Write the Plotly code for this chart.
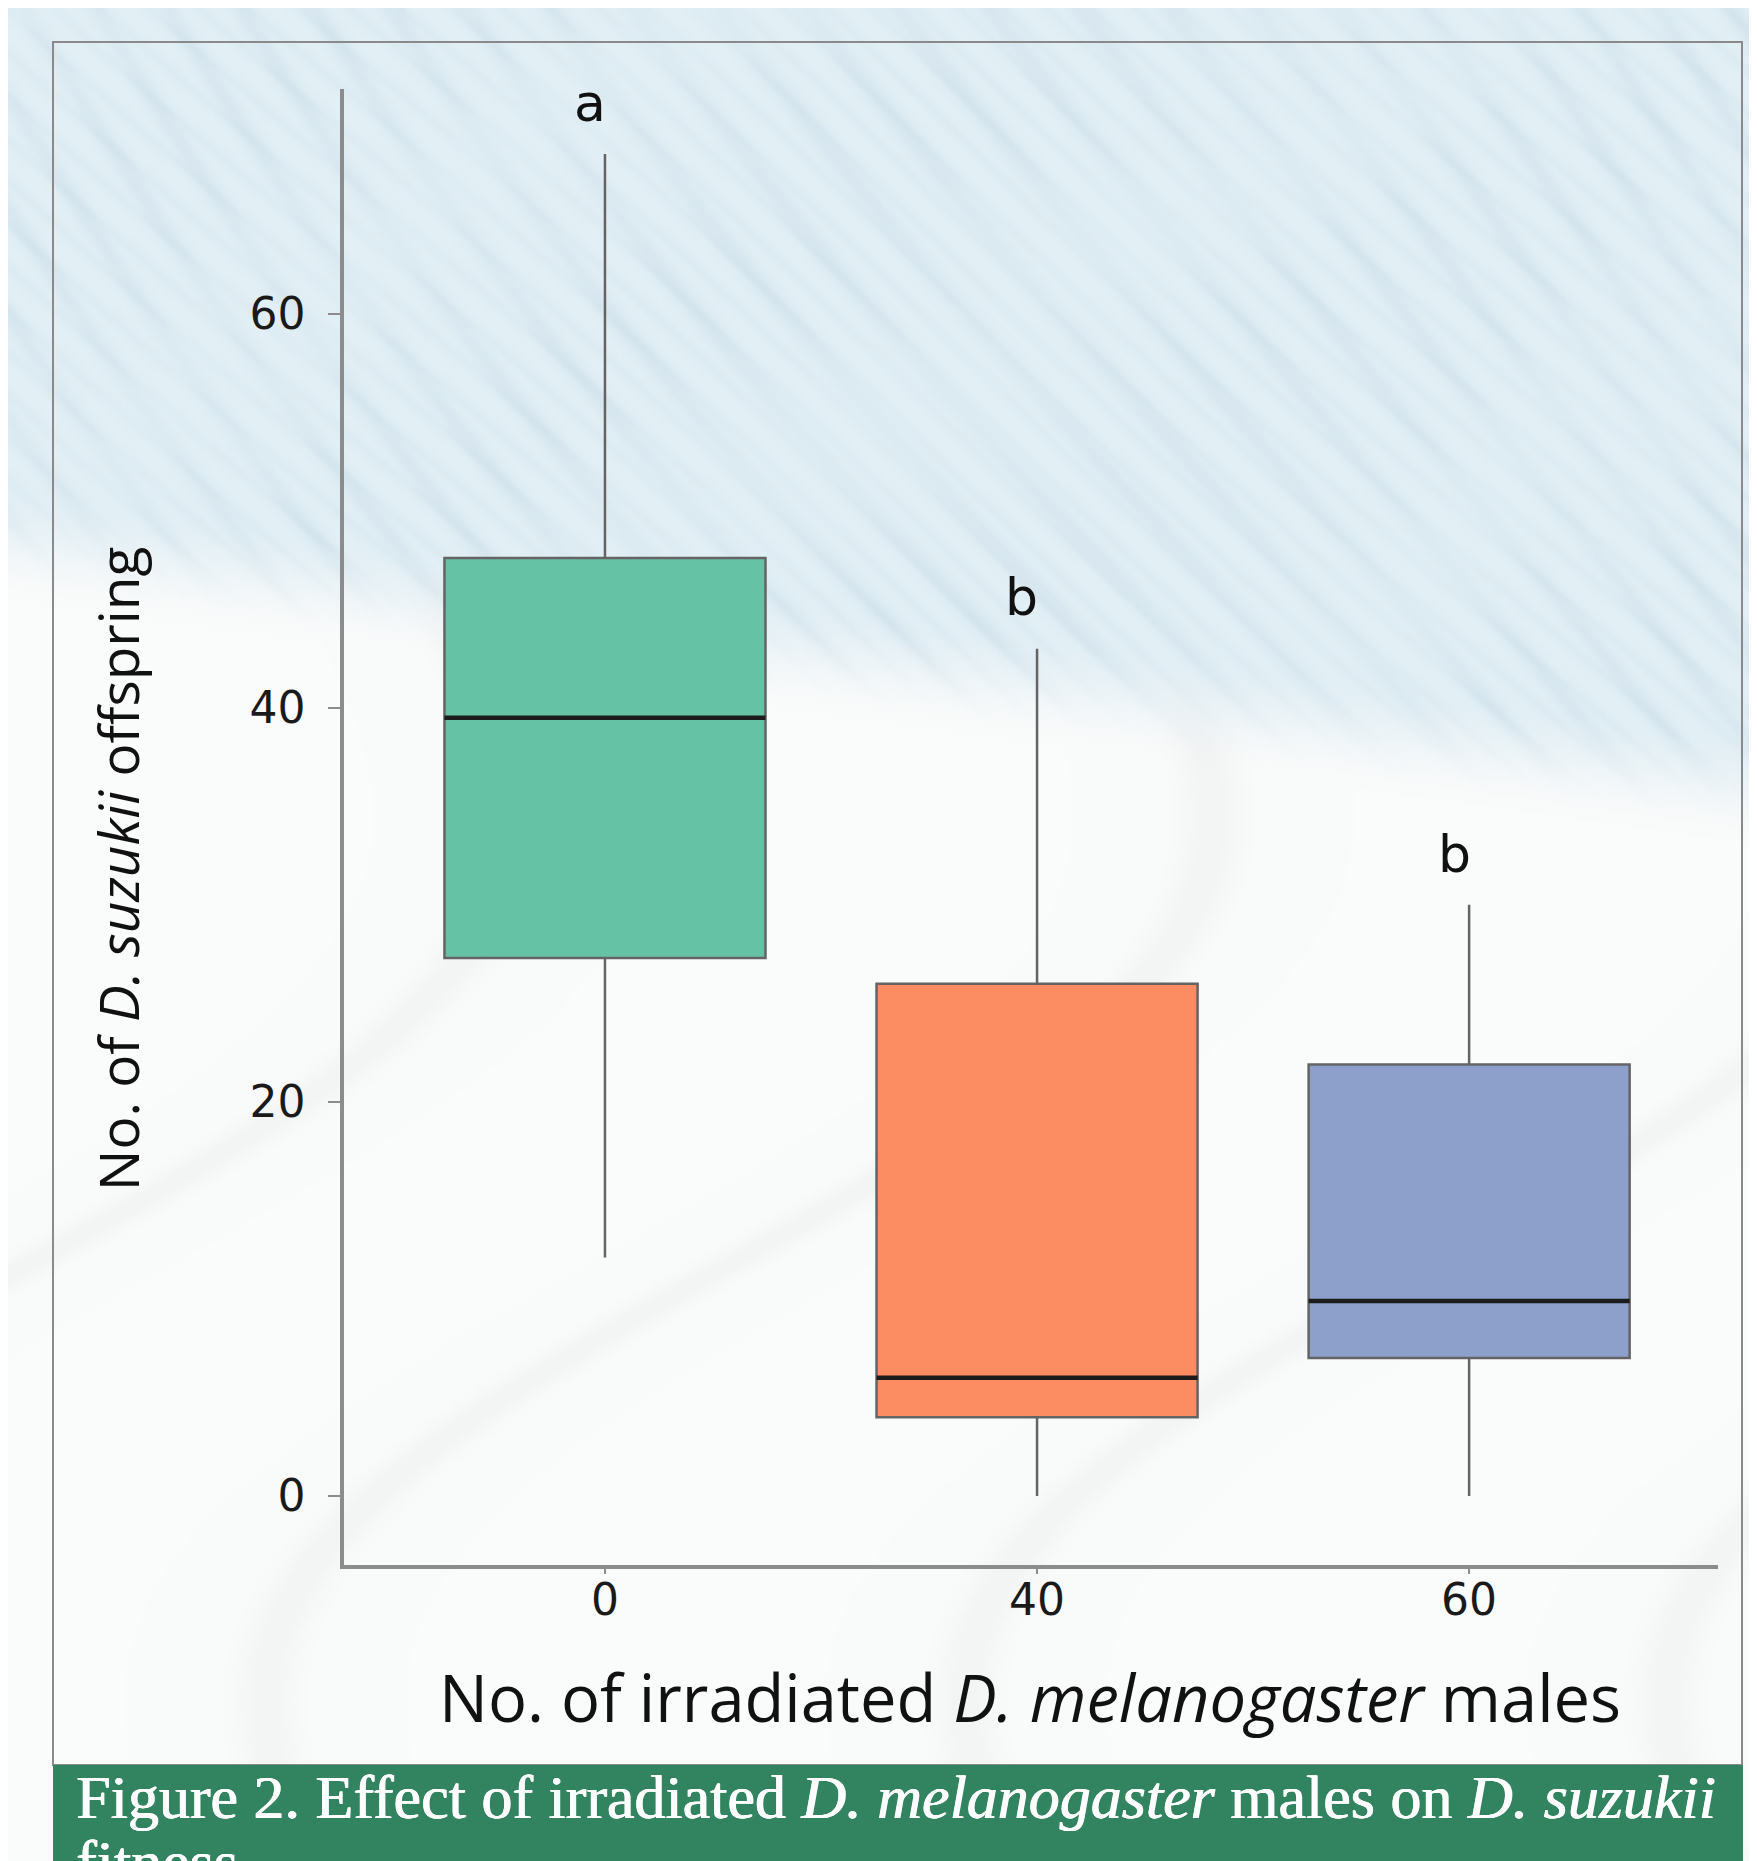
import base64
import struct
import zlib

import numpy as np
import plotly.graph_objects as go

# ---------------- data ----------------
categories = ["0", "40", "60"]
q1_vals = [27.3, 4.0, 7.0]
median_vals = [39.5, 6.0, 9.9]
q3_vals = [47.6, 26.0, 21.9]
lower_vals = [12.1, 0.0, 0.0]
upper_vals = [68.1, 43.0, 30.0]
letters = ["a", "b", "b"]
y_ticks = [0, 20, 40, 60]

colors = ["#66c2a5", "#fc8d62", "#8da0cb"]

# ---------------- geometry helpers ----------------
OFF = 8  # page body margin of the browser
FW, FH = 1757 - OFF, 1861 - OFF
# plot area in reference pixel coordinates
RL, RR, RT, RB = 344, 1718, 89, 1565
L, R, T, B = RL - OFF, RR - OFF, RT - OFF, RB - OFF
PW, PH = R - L, B - T


def px_x(x):  # x given in reference pixels
    return (x - OFF - L) / PW


def px_y(y):
    return (B - (y - OFF)) / PH


# ---------------- background image (soft photo-like texture) ----------------
def make_bg():
    W, H = 440, 466
    sx, sy = FW / W, FH / H
    yy, xx = np.mgrid[0:H, 0:W].astype(float)
    xx = xx * sx + OFF
    yy = yy * sy + OFF
    blue = np.array([226, 239, 245], float)
    white = np.array([250, 251, 251], float)
    yt = 540 + 0.14 * xx
    t = np.clip((yy - yt) / 110 + 0.5, 0, 1)
    t = t * t * (3 - 2 * t)
    phase = 2 * np.pi * (xx - 0.8 * yy) / 80 + 3 * np.sin(xx / 310) + 2 * np.sin(yy / 260)
    phase_b = 2 * np.pi * (xx - 1.1 * yy) / 47 + 2 * np.sin(xx / 190 + 1.3)
    dark = 0.6 * np.clip(np.sin(phase), 0, 1) ** 2 + 0.4 * np.clip(np.sin(phase_b), 0, 1) ** 3
    dark *= 0.6 + 0.4 * np.sin(xx / 230 + yy / 170) ** 2
    blue_img = blue[None, None, :] - dark[..., None] * np.array([15, 11, 8], float)[None, None, :]
    phase2 = 2 * np.pi * (xx * 0.6 + yy * 0.4) / 420 + 2 * np.sin(yy / 200)
    faint = np.clip(np.sin(phase2), 0, 1) ** 30
    white_img = white[None, None, :] - faint[..., None] * np.array([7, 7, 7], float)[None, None, :]
    img = blue_img * (1 - t[..., None]) + white_img * t[..., None]
    img = np.clip(img, 0, 255).astype(np.uint8)
    raw = b"".join(b"\x00" + img[r].tobytes() for r in range(H))

    def chunk(tag, data):
        c = struct.pack(">I", len(data)) + tag + data
        return c + struct.pack(">I", zlib.crc32(tag + data) & 0xFFFFFFFF)

    png = b"\x89PNG\r\n\x1a\n"
    png += chunk(b"IHDR", struct.pack(">IIBBBBB", W, H, 8, 2, 0, 0, 0))
    png += chunk(b"IDAT", zlib.compress(raw, 9))
    png += chunk(b"IEND", b"")
    return "data:image/png;base64," + base64.b64encode(png).decode()


# ---------------- figure ----------------
fig = go.Figure()
box_w = 0.743
for i, cat in enumerate(categories):
    fig.add_trace(go.Box(
        x=[i],
        q1=[q1_vals[i]], median=[median_vals[i]], q3=[q3_vals[i]],
        lowerfence=[lower_vals[i]], upperfence=[upper_vals[i]],
        fillcolor=colors[i],
        line=dict(color="#646464", width=2.5),
        width=box_w, whiskerwidth=0, boxpoints=False,
        name=cat, showlegend=False,
    ))
    fig.add_trace(go.Scatter(
        x=[i - box_w / 2, i + box_w / 2], y=[median_vals[i], median_vals[i]],
        mode="lines", line=dict(color="#1c1c1c", width=4.5),
        showlegend=False, hoverinfo="skip",
    ))

annotations = []
for i, lab in enumerate(letters):
    annotations.append(dict(
        x=i - 0.035, y=upper_vals[i] + 2.6, xref="x", yref="y", text=lab,
        showarrow=False, font=dict(family="DejaVu Sans", size=52, color="#111111"),
        xanchor="center", yanchor="middle",
    ))

annotations.append(dict(
    x=px_x(117), y=px_y(869), xref="paper", yref="paper",
    text="No. of <i>D. suzukii</i> offspring", textangle=-90, showarrow=False,
    font=dict(family="Open Sans", size=55, color="#111111"),
    xanchor="center", yanchor="middle",
))
annotations.append(dict(
    x=px_x(1030), y=px_y(1697), xref="paper", yref="paper",
    text="No. of irradiated <i>D. melanogaster</i> males", showarrow=False,
    font=dict(family="Open Sans", size=65, color="#111111"),
    xanchor="center", yanchor="middle",
))
caption_font = dict(family="Liberation Serif", size=62, color="#ffffff",
                    shadow="0.7px 0 0 #ffffff, -0.3px 0 0 #ffffff")
annotations.append(dict(
    x=px_x(74), y=px_y(1797), xref="paper", yref="paper",
    text="Figure 2. Effect of irradiated <i>D. melanogaster</i> males on <i>D. suzukii</i>",
    showarrow=False, font=caption_font,
    xanchor="left", yanchor="middle",
))
annotations.append(dict(
    x=px_x(74), y=px_y(1862), xref="paper", yref="paper",
    text="fitness", showarrow=False, font=caption_font,
    xanchor="left", yanchor="middle",
))

shapes = [
    # outer frame
    dict(type="rect", xref="paper", yref="paper",
         x0=px_x(53), x1=px_x(1742), y0=px_y(1765), y1=px_y(42),
         line=dict(color="#8a8a8a", width=2), fillcolor="rgba(0,0,0,0)", layer="below"),
    # green caption band
    dict(type="rect", xref="paper", yref="paper",
         x0=px_x(53), x1=px_x(1743), y0=px_y(1900), y1=px_y(1765),
         line=dict(width=0), fillcolor="#31845f", layer="above"),
]

axis_common = dict(
    showline=True, linecolor="#8c8c8c", linewidth=3.5,
    ticks="outside", tickcolor="#8c8c8c", tickwidth=2,
    showgrid=False, zeroline=False,
    tickfont=dict(family="DejaVu Sans", size=44, color="#1a1a1a"),
)

fig.update_layout(
    width=FW, height=FH,
    margin=dict(l=L, r=FW - R, t=T, b=FH - B, pad=0),
    paper_bgcolor="#f6f9fa",
    plot_bgcolor="rgba(0,0,0,0)",
    xaxis=dict(range=[-0.604, 2.576], tickvals=[0, 1, 2], ticktext=categories,
               ticklen=5, ticklabelstandoff=-12, **axis_common),
    yaxis=dict(range=[-3.5, 71.4], tickvals=y_ticks, ticklen=12,
               ticklabelstandoff=14, **axis_common),
    annotations=annotations,
    shapes=shapes,
    images=[dict(source=make_bg(), xref="paper", yref="paper",
                 x=px_x(OFF), y=px_y(OFF), sizex=FW / PW, sizey=FH / PH,
                 xanchor="left", yanchor="top", sizing="stretch", layer="below")],
    showlegend=False,
)

fig.write_html("out.html")
